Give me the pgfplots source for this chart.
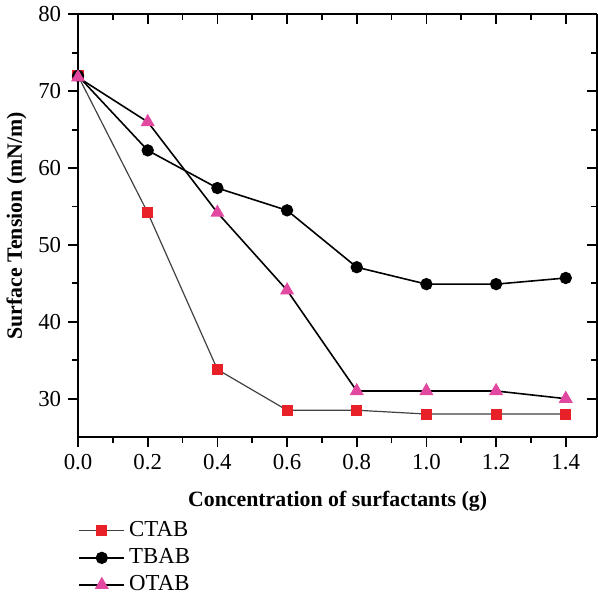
\documentclass[border=0pt]{standalone}
\usepackage{fontspec}
\setmainfont{Liberation Serif}
\usepackage{pgfplots}
\pgfplotsset{compat=1.18}
\definecolor{ctabred}{RGB}{232,32,40}
\definecolor{otabpink}{RGB}{226,72,160}
\begin{document}
\begin{tikzpicture}
\pgfplotsset{
  common/.style={
    scale only axis, width=261.5pt, height=213pt,
    xmin=0, xmax=1.49, ymin=25, ymax=80,
    xtick={0,0.2,...,1.4}, ytick={30,40,...,80},
    minor x tick num=1, minor y tick num=1,
    axis line style={line width=0.9pt},
    major tick length=5pt, minor tick length=3pt,
    every tick/.style={line width=0.9pt, black},
    /pgf/number format/assume math mode=true,
    ticklabel style={font=\fontsize{11.5}{13}\selectfont},
  }
}
\begin{axis}[common,
  axis x line*=top, axis y line*=right,
  tick align=inside, xticklabels={}, yticklabels={},
  ticklabel style={overlay},
]
\end{axis}
\begin{axis}[common,
  axis x line*=bottom, axis y line*=left,
  tick align=outside,
  xticklabel style={/pgf/number format/.cd, fixed, fixed zerofill, precision=1},
  xlabel={\textbf{Concentration of surfactants (g)}},
  ylabel={\textbf{Surface Tension (mN/m)}},
  label style={font=\fontsize{11}{13}\selectfont},
  xlabel style={yshift=-4pt},
  ylabel style={yshift=-1pt},
  legend style={draw=none, at={(axis description cs:0,-0.19)}, anchor=north west,
    font=\fontsize{11.5}{13}\selectfont, row sep=0.5pt, fill=none, inner xsep=0pt, inner ysep=0pt},
  legend cell align=left,
  legend image code/.code={\draw[#1] (0cm,0cm) -- (0.8cm,0cm); \draw[#1, only marks] plot coordinates {(0.4cm,0cm)};},
]
\addplot[color=black!75, line width=0.6pt, mark=square*, mark size=2.5pt,
  mark options={draw=ctabred, fill=ctabred}]
  coordinates {(0,72) (0.2,54.2) (0.4,33.8) (0.6,28.5) (0.8,28.5) (1.0,28) (1.2,28) (1.4,28)};
\addplot[color=black, line width=0.8pt, mark=*, mark size=2.7pt,
  mark options={draw=black, fill=black}]
  coordinates {(0,72) (0.2,62.3) (0.4,57.4) (0.6,54.5) (0.8,47.1) (1.0,44.9) (1.2,44.9) (1.4,45.7)};
\addplot[color=black, line width=0.8pt, mark=triangle*, mark size=3.3pt,
  mark options={draw=otabpink, fill=otabpink}]
  coordinates {(0,71.8) (0.2,66.0) (0.4,54.2) (0.6,44.1) (0.8,31.0) (1.0,31.0) (1.2,31.0) (1.4,30.0)};
\legend{CTAB, TBAB, OTAB}
\end{axis}
\end{tikzpicture}
\end{document}
